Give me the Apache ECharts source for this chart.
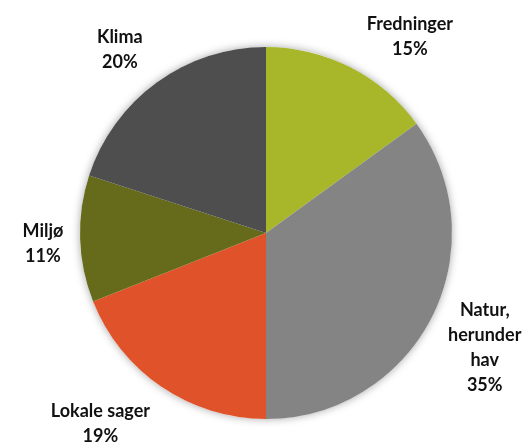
<!DOCTYPE html>
<html>
<head>
<meta charset="utf-8">
<script src="https://cdn.jsdelivr.net/npm/echarts@6/dist/echarts.min.js"></script>
<style>
html,body{margin:0;padding:0;background:#fff;}
#chart{width:532px;height:446px;}
</style>
</head>
<body>
<div id="chart"></div>
<script>
// ---- data ----
var categories = ['Fredninger', 'Natur, herunder hav', 'Lokale sager', 'Miljø', 'Klima'];
var values = [15, 35, 19, 11, 20];

// ---- style ----
var colors = ['#a8b62a', '#848484', '#e0532a', '#656b1a', '#4e4e4e'];
var CX = 266, CY = 233, R = 186, GAP = 12;
var labelNudge = {
  'Fredninger': [35, 17],
  'Natur, herunder hav': [-7, 0],
  'Lokale sager': [-27, -13],
  'Miljø': [-4, 4],
  'Klima': [-10, 4]
};

var total = values.reduce(function (a, b) { return a + b; }, 0);
var midAngles = [];
(function () {
  var acc = 0;
  for (var i = 0; i < values.length; i++) {
    midAngles.push((acc + values[i] / 2) / total * 2 * Math.PI);
    acc += values[i];
  }
})();

var chart = echarts.init(document.getElementById('chart'), null, {renderer: 'canvas'});
chart.setOption({
  animation: false,
  backgroundColor: '#ffffff',
  series: [
    {
      type: 'pie',
      silent: true,
      center: [CX, CY],
      radius: R,
      startAngle: 90,
      label: {show: false},
      labelLine: {show: false},
      itemStyle: {color: '#ffffff', shadowBlur: 8, shadowColor: 'rgba(0,0,0,0.35)'},
      data: [{name: 'bg', value: total}],
      z: 1
    },
    {
      type: 'pie',
      center: [CX, CY],
      radius: R,
      startAngle: 90,
      clockwise: true,
      avoidLabelOverlap: false,
      z: 2,
      data: categories.map(function (c, i) {
        return {name: c, value: values[i], itemStyle: {color: colors[i]}};
      }),
      label: {
        show: true,
        position: 'outside',
        alignTo: 'none',
        overflow: 'none',
        fontFamily: 'Lato',
        fontWeight: 'bold',
        fontSize: 18,
        lineHeight: 25,
        color: '#111111',
        formatter: function (p) {
          var name = p.name.length > 14 ? p.name.split(' ').join('\n') : p.name;
          return name + '\n' + p.value + '%';
        }
      },
      labelLine: {show: false},
      labelLayout: function (params) {
        var i = params.dataIndex;
        var a = midAngles[i];
        var s = Math.sin(a), c = Math.cos(a);
        var w = params.labelRect.width, h = params.labelRect.height;
        var d = R + GAP + Math.abs(s) * w / 2 + Math.abs(c) * h / 2;
        var n = labelNudge[categories[i]] || [0, 0];
        return {
          x: CX + d * s + n[0],
          y: CY - d * c + n[1],
          align: 'center',
          verticalAlign: 'middle'
        };
      }
    }
  ]
});
</script>
</body>
</html>
